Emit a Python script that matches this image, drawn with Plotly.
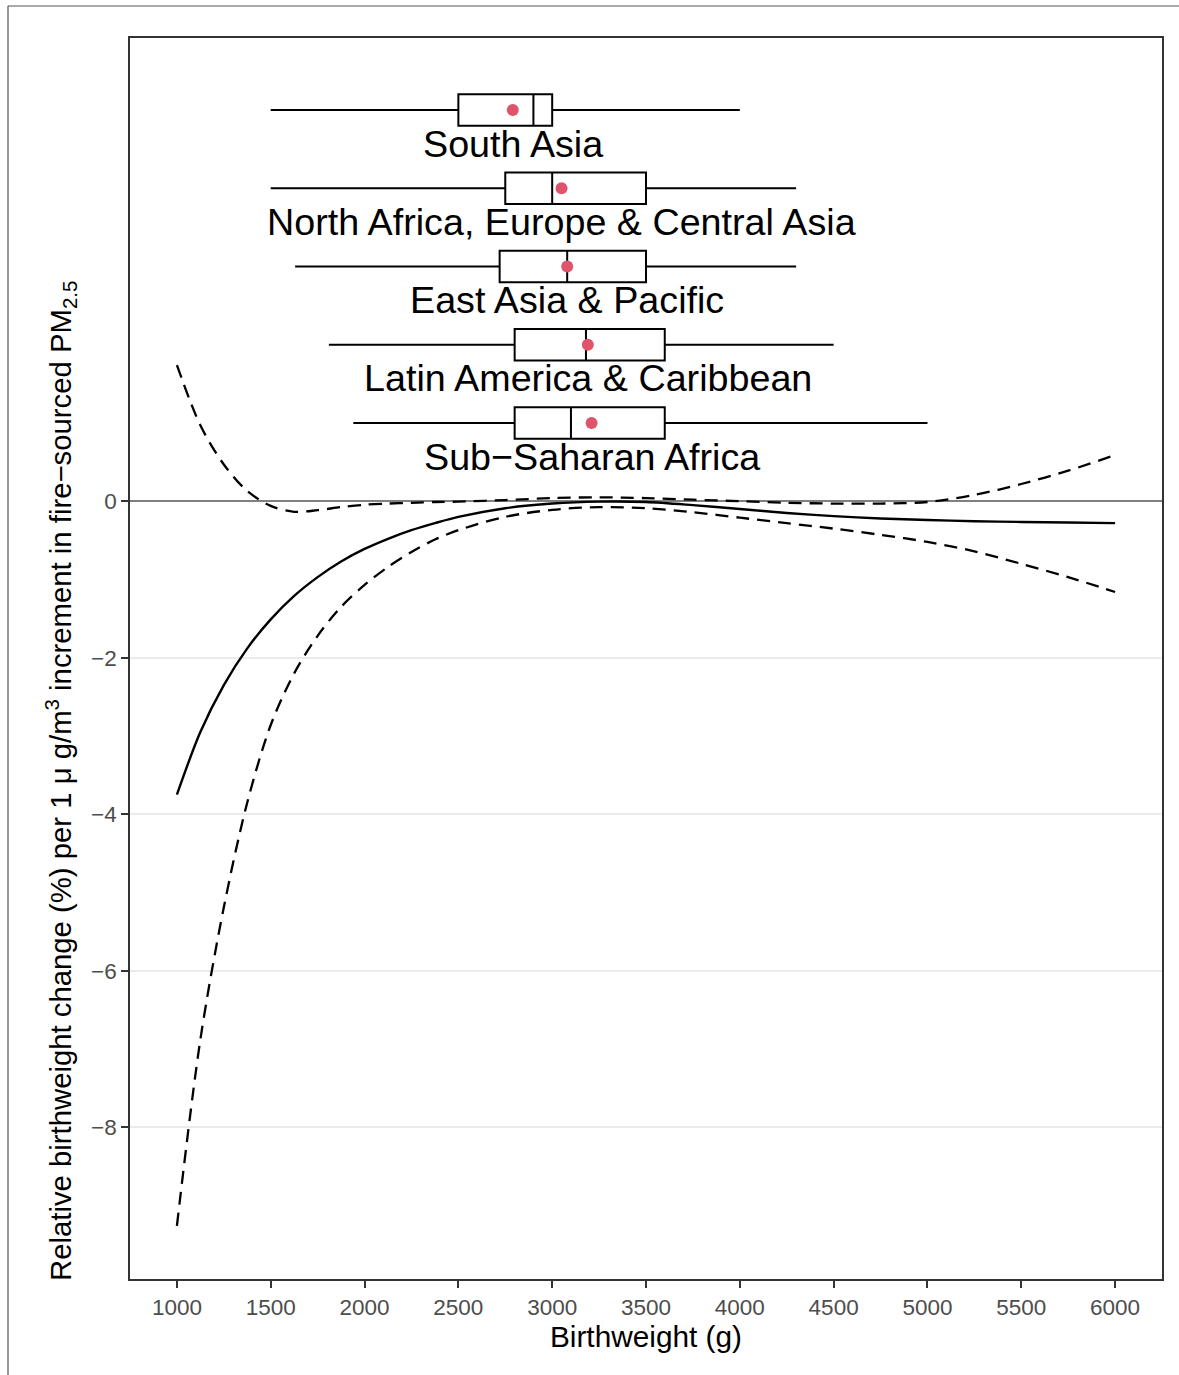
import plotly.graph_objects as go

# ---- curve data (birthweight g vs relative change %) ----
bw = [1000, 1125, 1250, 1375, 1500, 1625, 1750, 1875, 2000, 2125, 2250, 2375, 2500, 2750, 3000, 3250, 3500,
      3750, 4000, 4250, 4500, 4750, 5000, 5250, 5500, 5750, 6000]
est = [-3.75, -2.95, -2.35, -1.88, -1.51, -1.21, -0.97, -0.77, -0.61, -0.48, -0.37, -0.28, -0.20, -0.09, -0.03, -0.005, -0.01,
       -0.05, -0.10, -0.15, -0.19, -0.22, -0.24, -0.255, -0.265, -0.272, -0.28]
lower = [-9.26, -6.88, -5.19, -3.85, -2.86, -2.20, -1.72, -1.35, -1.07, -0.84, -0.65, -0.49, -0.37, -0.20, -0.11, -0.075, -0.09,
         -0.14, -0.21, -0.28, -0.35, -0.43, -0.52, -0.64, -0.80, -0.97, -1.16]
upper = [1.74, 0.97, 0.47, 0.13, -0.06, -0.135, -0.115, -0.075, -0.045, -0.03, -0.02, -0.01, -0.005, 0.015, 0.04, 0.05, 0.04,
         0.02, 0.0, -0.02, -0.03, -0.03, -0.01, 0.08, 0.22, 0.39, 0.59]

# ---- regional birthweight distributions ----
regions = ["South Asia", "North Africa, Europe & Central Asia", "East Asia & Pacific",
           "Latin America & Caribbean", "Sub\u2212Saharan Africa"]
positions = [5, 4, 3, 2, 1]
whisk_lo = [1500, 1500, 1630, 1810, 1940]
q1 = [2500, 2750, 2720, 2800, 2800]
median = [2900, 3000, 3080, 3180, 3100]
q3 = [3000, 3500, 3500, 3600, 3600]
whisk_hi = [4000, 4300, 4300, 4500, 5000]
means = [2790, 3050, 3080, 3190, 3210]

# ---- axis ticks ----
x_ticks = [1000, 1500, 2000, 2500, 3000, 3500, 4000, 4500, 5000, 5500, 6000]
y_ticks = [-8, -6, -4, -2, 0]
y_ticktext = ["\u22128", "\u22126", "\u22124", "\u22122", "0"]

FONT = "Liberation Sans, Arial, sans-serif"
W, H = 1179, 1375
ML, MR, MT, MB = 130, 17, 38, 96
PW, PH = W - ML - MR, H - MT - MB

fig = go.Figure()

for i in range(len(regions)):
    fig.add_trace(go.Box(
        y=[positions[i]], q1=[q1[i]], median=[median[i]], q3=[q3[i]],
        lowerfence=[whisk_lo[i]], upperfence=[whisk_hi[i]],
        orientation="h", width=0.4, whiskerwidth=0,
        fillcolor="white", line=dict(color="black", width=2),
        boxpoints=False, showlegend=False, hoverinfo="skip"))

fig.add_trace(go.Scatter(
    x=means, y=positions, mode="markers",
    marker=dict(color="#DF536B", size=12), showlegend=False))

for i in range(len(regions)):
    fig.add_annotation(x=means[i], y=positions[i] - 0.43, text=regions[i],
                       showarrow=False, xanchor="center", yanchor="middle",
                       font=dict(family=FONT, size=37.7, color="black"))

dash = "13px,8px"
fig.add_trace(go.Scatter(x=bw, y=upper, mode="lines",
                         line=dict(color="black", width=2.3, dash=dash, shape="spline", smoothing=0.9),
                         showlegend=False))
fig.add_trace(go.Scatter(x=bw, y=lower, mode="lines",
                         line=dict(color="black", width=2.3, dash=dash, shape="spline", smoothing=0.9),
                         showlegend=False))
fig.add_trace(go.Scatter(x=bw, y=est, mode="lines",
                         line=dict(color="black", width=2.4, shape="spline", smoothing=0.9),
                         showlegend=False))

# outer frame (top and left edges only, as in the reference)
fx0 = (8 - ML) / PW
fx1 = (W - ML) / PW
fy_top = 1 + (MT - 6) / PH
fig.add_shape(type="line", xref="paper", yref="paper", x0=fx0, x1=fx1, y0=fy_top, y1=fy_top,
              line=dict(color="#555555", width=1.2))
fig.add_shape(type="line", xref="paper", yref="paper", x0=fx0, x1=fx0, y0=fy_top, y1=-MB / PH,
              line=dict(color="#555555", width=1.2))

# y-axis title (bottom-aligned with the panel, as in the reference)
fig.add_annotation(xref="paper", yref="paper", x=(60 - ML) / PW, y=-4 / PH,
                   xanchor="center", yanchor="bottom", textangle=-90, showarrow=False,
                   text="Relative birthweight change (%) per 1 \u03bc g/m<sup>3</sup> increment in fire\u2212sourced PM<sub>2.5</sub>",
                   font=dict(family=FONT, size=29.3, color="black"))

fig.update_layout(
    width=W, height=H,
    margin=dict(l=ML, r=MR, t=MT, b=MB),
    plot_bgcolor="white", paper_bgcolor="white",
    font=dict(family=FONT, color="black"),
    xaxis=dict(range=[750, 6250], tickvals=x_ticks, ticktext=[str(v) for v in x_ticks],
               showgrid=False, zeroline=False, showline=True, mirror=True,
               linecolor="#333333", linewidth=1.6, ticks="outside", ticklen=7,
               tickwidth=1.5, tickcolor="#333333",
               tickfont=dict(family=FONT, size=22.5, color="#4D4D4D"),
               title=dict(text="Birthweight (g)", font=dict(family=FONT, size=29.8, color="black"), standoff=5)),
    yaxis=dict(range=[-9.94, 5.92], tickvals=y_ticks, ticktext=y_ticktext,
               showgrid=True, gridcolor="#EBEBEB", gridwidth=1.6,
               zeroline=True, zerolinecolor="#808080", zerolinewidth=2,
               showline=True, mirror=True,
               linecolor="#333333", linewidth=1.6, ticks="outside", ticklen=7,
               tickwidth=1.5, tickcolor="#333333",
               tickfont=dict(family=FONT, size=22.5, color="#4D4D4D")),
)

fig.write_html("out.html", config={"displayModeBar": False},
               post_script="document.body.style.margin='0';document.body.style.overflow='hidden';")
